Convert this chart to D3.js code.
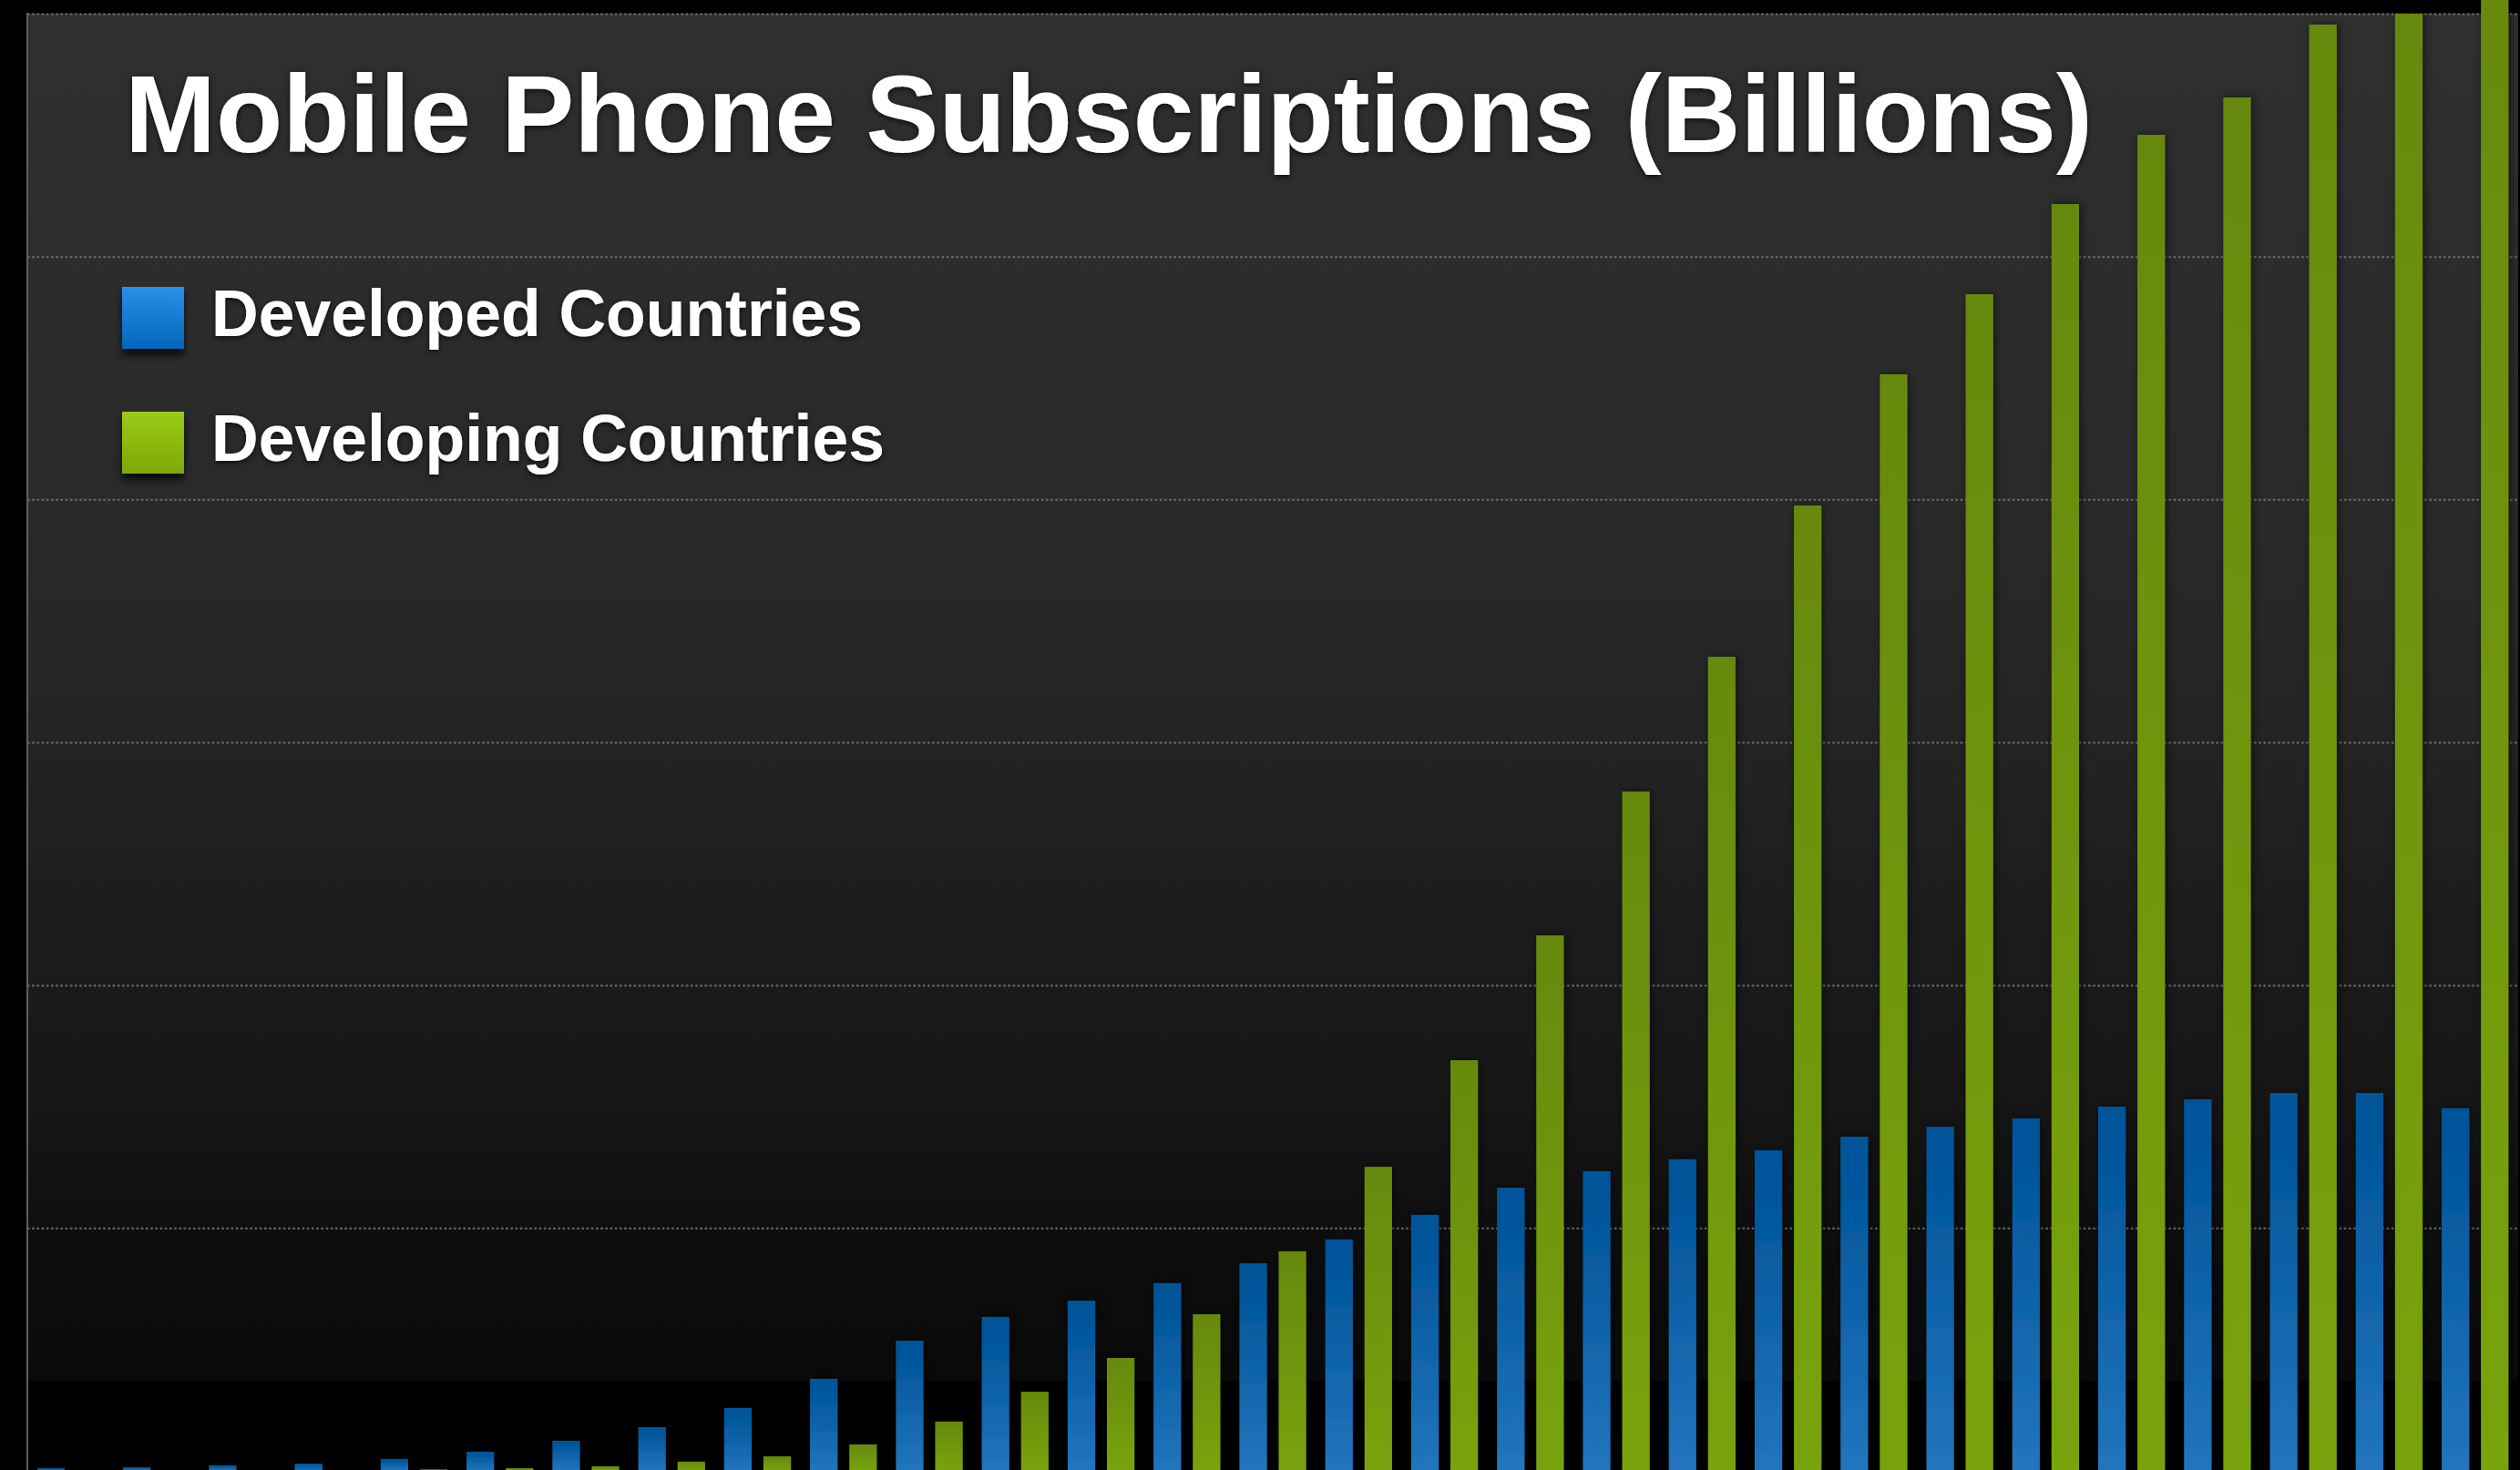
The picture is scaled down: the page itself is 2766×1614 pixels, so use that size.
<!DOCTYPE html>
<html><head><meta charset="utf-8">
<script src="https://cdn.jsdelivr.net/npm/d3@7"></script>
<style>html,body{margin:0;padding:0;background:#000;overflow:hidden}</style>
</head><body>
<svg id="chart" width="2766" height="1614"></svg>
<script>
// ---- data ----
const titleText = "Mobile Phone Subscriptions (Billions)";
const seriesNames = ["Developed Countries", "Developing Countries"];
const categories = ["1984","1985","1986","1987","1988","1989","1990","1991","1992","1993",
  "1994","1995","1996","1997","1998","1999","2000","2001","2002","2003",
  "2004","2005","2006","2007","2008","2009","2010","2011","2012"];
const developed = [0.011,0.015,0.023,0.030,0.049,0.079,0.124,0.180,0.259,0.379,
  0.536,0.634,0.701,0.773,0.855,0.953,1.054,1.166,1.234,1.283,
  1.320,1.376,1.417,1.451,1.500,1.530,1.556,1.556,1.493];
const developing = [0,0,0,0,0.006,0.011,0.019,0.038,0.060,0.109,
  0.203,0.326,0.465,0.645,0.904,1.252,1.691,2.205,2.797,3.352,
  3.975,4.515,4.845,5.216,5.501,5.655,5.955,6.000,6.300];
const gridTicks = [1,2,3,4,5,6];

// ---- layout ----
const W = 2766, H = 1614;
const plot = {left: 30, right: 2764, top: 15, bottom: 1615, bandBottom: 1516};
const svg = d3.select("#chart");
const defs = svg.append("defs");

function lin(id, stops) {
  const g = defs.append("linearGradient").attr("id", id)
    .attr("x1", 0).attr("y1", 0).attr("x2", 0).attr("y2", 1);
  stops.forEach(s => g.append("stop").attr("offset", s[0]).attr("stop-color", s[1]));
  return g;
}
lin("bgGrad", [[0,"#2f2f2f"],[0.35,"#2a2a2a"],[0.57,"#222222"],[0.66,"#1c1c1c"],[0.8,"#161616"],[0.87,"#101010"],[0.93,"#0c0c0c"],[1,"#0a0a0a"]]);
lin("blueBar", [[0,"#00559a"],[0.12,"#00559a"],[1,"#2275bd"]]);
lin("greenBar", [[0,"#668909"],[1,"#79a311"]]);
lin("blueSw", [[0,"#2990ea"],[1,"#0066ba"]]);
lin("greenSw", [[0,"#98cc13"],[1,"#7fa70c"]]);

const fBar = defs.append("filter").attr("id","barShadow").attr("x","-50%").attr("y","-5%").attr("width","200%").attr("height","110%");
fBar.append("feDropShadow").attr("dx",2).attr("dy",0).attr("stdDeviation",4).attr("flood-color","#000").attr("flood-opacity",0.55);
const fTxt = defs.append("filter").attr("id","txtShadow").attr("x","-10%").attr("y","-30%").attr("width","120%").attr("height","160%");
fTxt.append("feDropShadow").attr("dx",0).attr("dy",2).attr("stdDeviation",3).attr("flood-color","#000").attr("flood-opacity",0.7);
const fSw = defs.append("filter").attr("id","swShadow").attr("x","-30%").attr("y","-30%").attr("width","160%").attr("height","180%");
fSw.append("feDropShadow").attr("dx",0).attr("dy",7).attr("stdDeviation",4).attr("flood-color","#000").attr("flood-opacity",0.75);

// background
svg.append("rect").attr("width", W).attr("height", H).attr("fill", "#000");
svg.append("rect").attr("x", plot.left).attr("y", plot.top)
  .attr("width", plot.right - plot.left).attr("height", plot.bandBottom - plot.top)
  .attr("fill", "url(#bgGrad)");

// scales
const y = d3.scaleLinear().domain([0, 6]).range([plot.bottom, plot.top]);
const x0 = d3.scaleBand().domain(categories).range([40.8, 2753.3]).paddingInner(0.2228).paddingOuter(0);
const x1 = d3.scaleBand().domain(seriesNames).range([0, x0.bandwidth()]).paddingInner(0.3).paddingOuter(0);

// gridlines
const grid = svg.append("g").attr("transform", `translate(${plot.left},0)`)
  .call(d3.axisRight(y).tickValues(gridTicks).tickSize(plot.right - plot.left).tickFormat(""));
grid.select(".domain").remove();
grid.selectAll(".tick line").attr("stroke", "#6f6f6f").attr("stroke-width", 2).attr("stroke-dasharray", "2.6,2.6");

// left border
svg.append("line").attr("x1", plot.left).attr("x2", plot.left).attr("y1", plot.top - 1).attr("y2", H)
  .attr("stroke", "#5b605e").attr("stroke-width", 2);

// bars
const rows = categories.map((c, i) => ({cat: c, vals: [developed[i], developing[i]]}));
const barsG = svg.append("g").attr("filter", "url(#barShadow)");
const grp = barsG.selectAll("g.grp").data(rows).join("g").attr("class", "grp")
  .attr("transform", d => `translate(${x0(d.cat)},0)`);
grp.selectAll("rect").data(d => d.vals.map((v, k) => ({k, v}))).join("rect")
  .attr("x", d => x1(seriesNames[d.k]))
  .attr("width", x1.bandwidth())
  .attr("y", d => y(d.v))
  .attr("height", d => Math.max(0, y(0) - y(d.v)))
  .attr("fill", d => d.k === 0 ? "url(#blueBar)" : "url(#greenBar)");

// title
svg.append("text").attr("x", 137).attr("y", 167)
  .attr("font-family", "'Liberation Sans', Arial, Helvetica, sans-serif")
  .attr("font-weight", "bold").attr("font-size", 120).attr("fill", "#fff")
  .attr("filter", "url(#txtShadow)").text(titleText);

// legend
const legend = svg.append("g");
const legendY = [315, 452];
const swFill = ["url(#blueSw)", "url(#greenSw)"];
seriesNames.forEach((name, i) => {
  legend.append("rect").attr("x", 134).attr("y", legendY[i]).attr("width", 68).attr("height", 68)
    .attr("fill", swFill[i]).attr("filter", "url(#swShadow)");
  legend.append("text").attr("x", 232).attr("y", legendY[i] + 54)
    .attr("font-family", "'Liberation Sans', Arial, Helvetica, sans-serif")
    .attr("font-weight", "bold").attr("font-size", 71.5).attr("fill", "#fff")
    .attr("filter", "url(#txtShadow)").text(name);
});
</script>
</body></html>
